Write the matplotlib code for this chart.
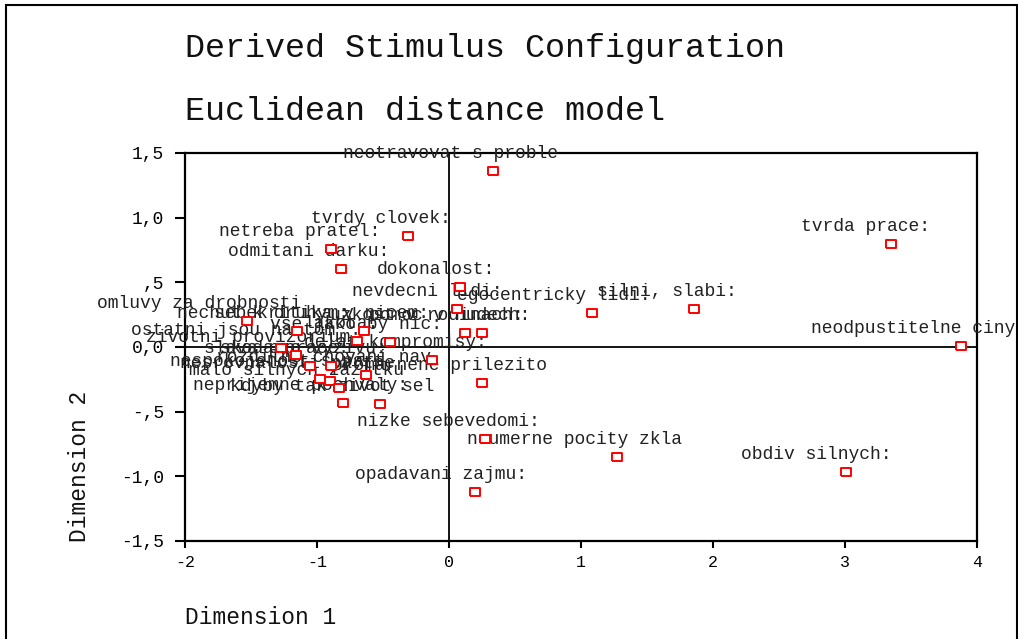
import matplotlib.pyplot as plt
from matplotlib.patches import Rectangle

# stimulus labels and derived coordinates
labels = [
    "neotravovat s proble", "tvrdy clovek:", "netreba pratel:", "odmitani darku:",
    "dokonalost:", "tvrda prace:", "silni, slabi:", "egocentricky lidi:",
    "neodpustitelne ciny:", "obdiv silnych:", "nizke sebevedomi:",
    "neumerne pocity zkla", "opadavani zajmu:", "omluvy za drobnosti ",
    "nechut k druhym:", "sebekritika v nicem:", "lakota:", "vse jako by nic:",
    "ostatni jsou na tom ", "zivotni provizorium:", "skoda prace:",
    "slava pro vyzivu:", "rozdilne chovani nav", "nespokojenost s part",
    "nesrovnalosti partne", "malo silnych zazitku", "neprijemne pochvaly:",
    "kdyby tak zivot sel ", "delat kompromisy:", "nevdecni lidi:",
    "uzkost v rodinach:", "pomoc v nudech:", "promarnene prilezito",
]
dim1 = [
    0.33, -0.31, -0.89, -0.82,
    0.08, 3.35, 1.86, 1.08,
    3.88, 3.01, 0.27,
    1.27, 0.20, -1.53,
    -1.15, -0.64, -0.70, -0.45,
    -1.27, -1.16, -1.05,
    -0.89, -0.63, -0.98,
    -0.90, -0.83, -0.80,
    -0.52, -0.13, 0.06,
    0.12, 0.25, 0.25,
]
dim2 = [
    1.36, 0.86, 0.76, 0.60,
    0.46, 0.80, 0.29, 0.26,
    0.01, -0.97, -0.71,
    -0.85, -1.12, 0.20,
    0.12, 0.12, 0.05, 0.04,
    -0.01, -0.06, -0.15,
    -0.15, -0.22, -0.25,
    -0.26, -0.32, -0.43,
    -0.44, -0.10, 0.29,
    0.11, 0.11, -0.28,
]

xticks = [-2, -1, 0, 1, 2, 3, 4]
yticks = [1.5, 1.0, 0.5, 0.0, -0.5, -1.0, -1.5]
ytick_labels = ["1,5", "1,0", ",5", "0,0", "-,5", "-1,0", "-1,5"]

plt.rcParams["font.family"] = ["Liberation Mono", "DejaVu Sans Mono"]

fig = plt.figure(figsize=(10.18, 6.39), dpi=100)
ax = fig.add_axes([0.1817, 0.1534, 0.778, 0.6072])
ax.set_xlim(-2, 4)
ax.set_ylim(-1.5, 1.5)

ax.axhline(0, color="black", lw=1.3, zorder=1)
ax.axvline(0, color="black", lw=1.3, zorder=1)

box = [(-1.25, -1), (1.25, -1), (1.25, 1), (-1.25, 1), (-1.25, -1)]
ax.plot(dim1, dim2, linestyle="none", marker=box, ms=7,
        mfc="white", mec="red", mew=1.4, zorder=4)

# SPSS puts the label start about 7.5 px per character left of the point
for lab, x, y in zip(labels, dim1, dim2):
    ax.annotate(lab, (x, y), xytext=(-7.5 * len(lab), 13),
                textcoords="offset pixels", ha="left", va="baseline",
                fontsize=13, color="#222222", annotation_clip=False)

for s in ax.spines.values():
    s.set_linewidth(1.6)

ax.set_xticks(xticks)
ax.set_xticklabels([str(t) for t in xticks], fontsize=12)
ax.set_yticks(yticks)
ax.set_yticklabels(ytick_labels, fontsize=13)
ax.tick_params(axis="y", direction="out", length=7, width=1.5, pad=8)
ax.tick_params(axis="x", direction="out", length=5, width=1.5, pad=5)

fig.text(185 / 1018, 1 - 48 / 639, "Derived Stimulus Configuration",
         fontsize=24, va="center", ha="left", color="#111111")
fig.text(185 / 1018, 1 - 111 / 639, "Euclidean distance model",
         fontsize=24, va="center", ha="left", color="#111111")
fig.text(185 / 1018, 1 - 617 / 639, "Dimension 1",
         fontsize=16.5, va="center", ha="left", color="#111111")
fig.text(80 / 1018, 1 - 542 / 639, "Dimension 2", rotation=90,
         fontsize=16.5, va="bottom", ha="center", color="#111111")

fig.add_artist(Rectangle((6 / 1018, -0.05), 1011 / 1018, 1.05 - 5 / 639,
                         transform=fig.transFigure, fill=False,
                         lw=1.5, edgecolor="black"))

fig.savefig("out.png", dpi=100)
